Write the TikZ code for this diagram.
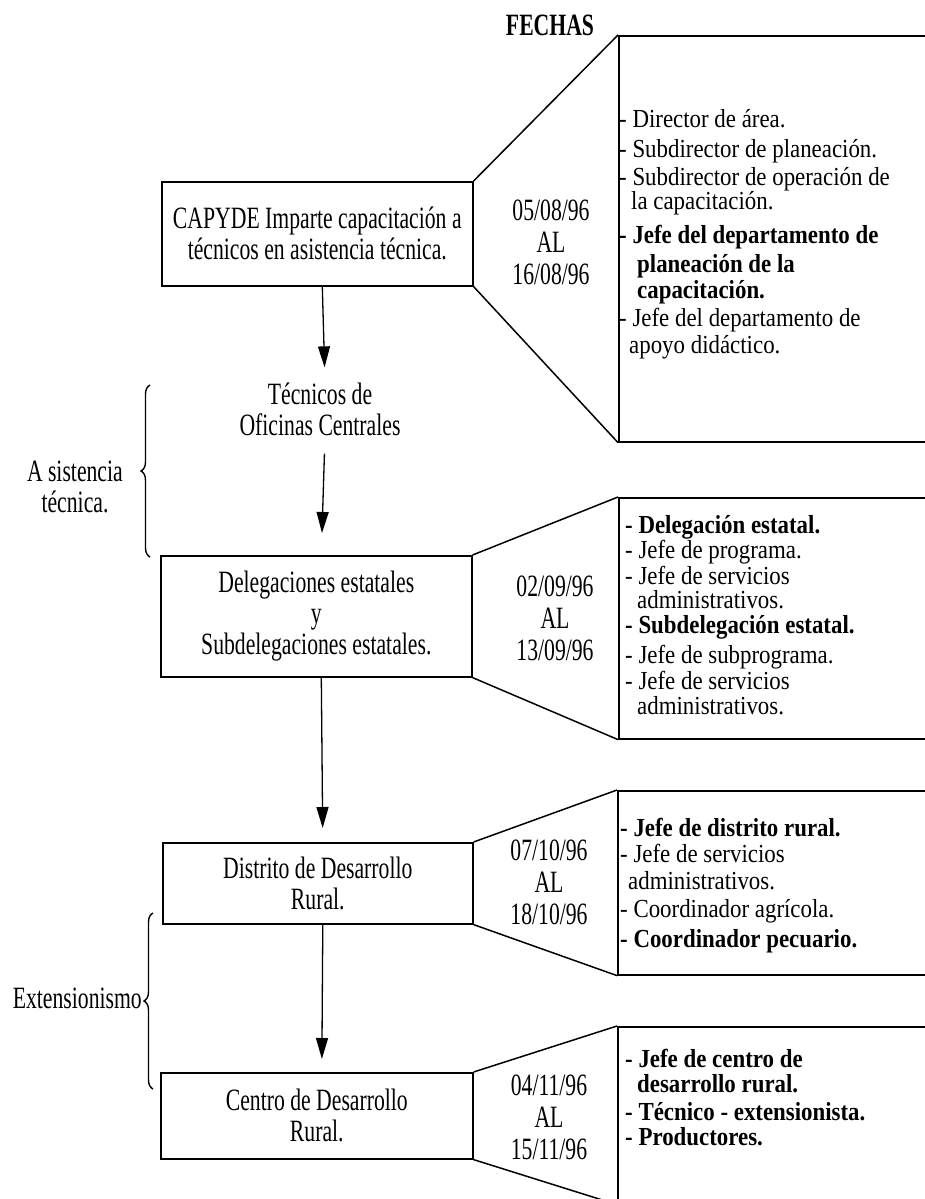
\documentclass[tikz,border=0pt]{standalone}
\usepackage{fontspec}
\setmainfont{Liberation Serif}[FakeStretch=0.70]
\newfontfamily\listfont{Liberation Serif}[FakeStretch=0.88]
\usetikzlibrary{arrows.meta,decorations.pathreplacing}
\newcommand{\fsz}{\fontsize{31}{31}\selectfont}
\newcommand{\fdt}{\fontsize{31}{32}\selectfont}
\newcommand{\flt}{\listfont\fontsize{26}{28}\selectfont}
\begin{document}
\begin{tikzpicture}[x=1pt,y=-1pt,
  ln/.style={line width=1.5pt},
  box/.style={draw, line width=1.6pt, anchor=north west, inner sep=0pt, align=center, font=\fsz},
  rbox/.style={draw, line width=1.6pt, anchor=north west, inner sep=0pt, minimum width=330pt},
  arr/.style={line width=1.3pt, -{Triangle[length=21pt,width=12pt]}},
  brc/.style={line width=1.4pt, decorate, decoration={brace, amplitude=9pt}},
  lt/.style={anchor=base west, inner sep=0pt, text height=14pt, text depth=3pt, font=\flt},
  ltb/.style={lt, font=\flt\bfseries},
  dt/.style={align=center, inner sep=0pt, font=\fdt},
  lab/.style={align=center, inner sep=0pt, font=\fsz}]
\useasboundingbox (0,0) rectangle (925,1199);
\clip (0,0) rectangle (925,1199);

% title
\node[lab, font=\fsz\bfseries] (fe) at (550,25) {FECHAS};

% left boxes
\node[box, minimum width=311pt, minimum height=104pt] (b1) at (161,181) {CAPYDE Imparte capacitación a\\técnicos en asistencia técnica.};
\node[box, minimum width=311pt, minimum height=121pt] (b2) at (160,555) {Delegaciones estatales\\y\\Subdelegaciones estatales.};
\node[box, minimum width=310pt, minimum height=81pt] (b3) at (162,842) {Distrito de Desarrollo\\Rural.};
\node[box, minimum width=312pt, minimum height=86pt] (b4) at (160,1072) {Centro de Desarrollo\\Rural.};

\node[lab] (tec) at (320,409) {Técnicos de\\Oficinas Centrales};

% right open boxes
\node[rbox, minimum height=406pt] (r1) at (618,35) {};
\node[rbox, minimum height=241pt] (r2) at (618,497) {};
\node[rbox, minimum height=184pt] (r3) at (617,790) {};
\node[rbox, minimum height=177pt] (r4) at (617,1026) {};

% trapezoid sides
\draw[ln] (b1.north east) -- (r1.north west);
\draw[ln] (b1.south east) -- (r1.south west);
\draw[ln] (b2.north east) -- (r2.north west);
\draw[ln] (b2.south east) -- (r2.south west);
\draw[ln] (b3.north east) -- (r3.north west);
\draw[ln] (b3.south east) -- (r3.south west);
\draw[ln] (b4.north east) -- (r4.north west);
\draw[ln] (b4.south east) -- (r4.south west);

% dates
\node[dt] (d1) at (551,242) {05/08/96\\AL\\16/08/96};
\node[dt] (d2) at (555,618) {02/09/96\\AL\\13/09/96};
\node[dt] (d3) at (549,882) {07/10/96\\AL\\18/10/96};
\node[dt] (d4) at (549,1117) {04/11/96\\AL\\15/11/96};

% arrows
\draw[arr, shorten >=15pt] ([xshift=5pt]b1.south) -- ([xshift=5pt]tec.north);
\draw[arr, shorten <=18pt, shorten >=22pt] ([xshift=5pt]tec.south) -- ([xshift=5pt]b2.north);
\draw[arr, shorten >=14pt] ([xshift=5pt]b2.south) -- ([xshift=5pt]b3.north);
\draw[arr, shorten >=13pt] ([xshift=5pt]b3.south) -- ([xshift=5pt]b4.north);

% braces
\draw[brc] (150,557) -- (150,385);
\node[lab] (asis) at (75,487) {A\,sistencia\\técnica.};
\draw[brc] (153,1089) -- (153,913);
\node[lab, anchor=east] (ext) at (142,998) {Extensionismo};

% list 1
\node[lt] (l1a) at (619,127) {- Director de área.};
\node[lt] (l1b) at (619,157) {- Subdirector de planeación.};
\node[lt] (l1c) at (619,185) {- Subdirector de operación de};
\node[lt] (l1d) at (631,209) {la capacitación.};
\node[ltb] (l1e) at (619,243) {- Jefe del departamento de};
\node[ltb] (l1f) at (637,272) {planeación de la};
\node[ltb] (l1g) at (637,298) {capacitación.};
\node[lt] (l1h) at (619,326) {- Jefe del departamento de};
\node[lt] (l1i) at (629,353) {apoyo didáctico.};

% list 2
\node[ltb] (l2a) at (625,533) {- Delegación estatal.};
\node[lt] (l2b) at (625,558) {- Jefe de programa.};
\node[lt] (l2c) at (625,584) {- Jefe de servicios};
\node[lt] (l2d) at (637,608) {administrativos.};
\node[ltb] (l2e) at (625,633) {- Subdelegación estatal.};
\node[lt] (l2f) at (625,663) {- Jefe de subprograma.};
\node[lt] (l2g) at (625,689) {- Jefe de servicios};
\node[lt] (l2h) at (637,714) {administrativos.};

% list 3
\node[ltb] (l3a) at (620,836) {- Jefe de distrito rural.};
\node[lt] (l3b) at (620,862) {- Jefe de servicios};
\node[lt] (l3c) at (628,889) {administrativos.};
\node[lt] (l3d) at (620,917) {- Coordinador agrícola.};
\node[ltb] (l3e) at (620,947) {- Coordinador pecuario.};

% list 4
\node[ltb] (l4a) at (625,1067) {- Jefe de centro de};
\node[ltb] (l4b) at (637,1092) {desarrollo rural.};
\node[ltb] (l4c) at (625,1120) {- Técnico - extensionista.};
\node[ltb] (l4d) at (625,1145) {- Productores.};
\end{tikzpicture}
\end{document}
